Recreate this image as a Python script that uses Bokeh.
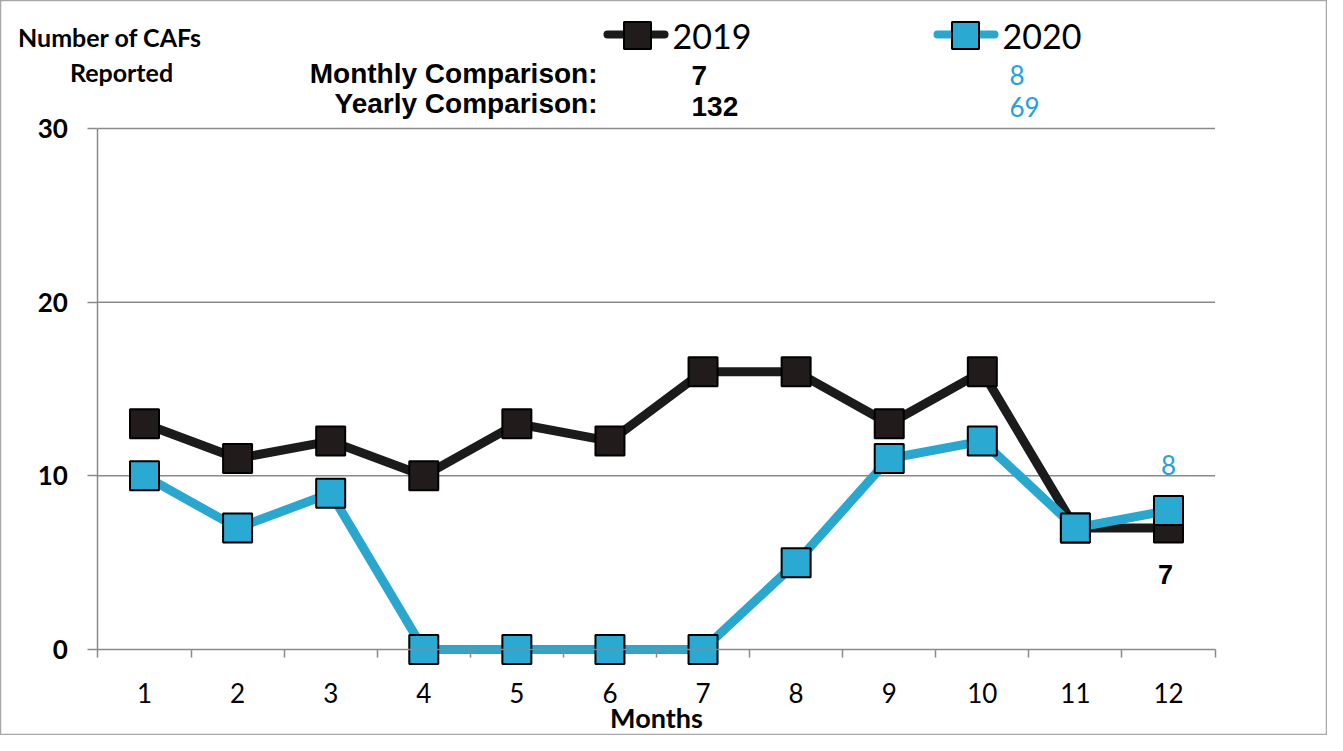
from bokeh.plotting import figure
from bokeh.models import Range1d, FixedTicker
from bokeh.core.properties import value
from bokeh.embed import file_html
from bokeh.resources import INLINE

# ---------------- data ----------------
months = list(range(1, 13))
cafs_2019 = [13, 11, 12, 10, 13, 12, 16, 16, 13, 16, 7, 7]
cafs_2020 = [10, 7, 9, 0, 0, 0, 0, 5, 11, 12, 7, 8]
series_names = ["2019", "2020"]
monthly_comparison = [7, 8]
yearly_comparison = [132, 69]
y_ticks = [0, 10, 20, 30]
grid_values = [10, 20, 30]

# ---------------- style ----------------
BLACK_LINE = "#1b1b1b"
BLACK_FILL = "#221b1b"
BLUE_LINE = "#2aa7cf"
BLUE_FILL = "#2aa9d2"
BLUE_TEXT = "#25a2d6"
GRID = "#8a8a8a"
CAL = "Lato"
ARIAL = "Liberation Sans"

W, H = 1327, 735
PX_X = 93.09     # pixels per month
PX_Y = 17.367    # pixels per CAF


def cx(xr):
    return 1 + (xr - 152) / PX_X


def cy(yr):
    return (657 - yr) / PX_Y


p = figure(width=W, height=H,
           x_range=Range1d(cx(8), cx(8 + W)),
           y_range=Range1d(cy(8 + H), cy(8)),
           output_backend="svg", toolbar_location=None,
           min_border=0, background_fill_color="white",
           border_fill_color="white")
p.outline_line_color = "#a8a8a8"
p.outline_line_width = 1.5
p.xgrid.visible = False
p.ygrid.visible = False

# y axis
ya = p.yaxis[0]
ya.fixed_location = 0.5
ya.bounds = (0, 30)
ya.ticker = FixedTicker(ticks=y_ticks, minor_ticks=[])
ya.major_tick_out = 10
ya.major_tick_in = 0
ya.minor_tick_out = 0
ya.axis_line_color = GRID
ya.axis_line_width = 1.5
ya.major_tick_line_color = GRID
ya.major_tick_line_width = 1.5
ya.major_label_text_font = CAL
ya.major_label_text_font_style = "bold"
ya.major_label_text_font_size = "26px"
ya.major_label_text_color = "black"
ya.major_label_standoff = 20

# x axis
xa = p.xaxis[0]
xa.fixed_location = 0
xa.bounds = (0.5, 12.5)
xa.ticker = FixedTicker(ticks=months, minor_ticks=[m - 0.5 for m in months] + [12.5])
xa.major_tick_out = 0
xa.major_tick_in = 0
xa.minor_tick_out = 8
xa.minor_tick_in = 0
xa.minor_tick_line_color = GRID
xa.minor_tick_line_width = 1.5
xa.axis_line_color = GRID
xa.axis_line_width = 1.5
xa.major_label_text_font = CAL
xa.major_label_text_font_size = "26px"
xa.major_label_text_color = "black"
xa.major_label_standoff = 25
xa.axis_label = "Months"
xa.axis_label_text_font = CAL
xa.axis_label_text_font_style = "bold"
xa.axis_label_text_font_size = "27px"
xa.axis_label_text_color = "black"
xa.axis_label_standoff = -5

# grid lines
p.segment(x0=[0.5] * len(grid_values), x1=[12.5] * len(grid_values),
          y0=grid_values, y1=grid_values, line_color=GRID, line_width=1.5)

# series
p.line(months, cafs_2019, line_color=BLACK_LINE, line_width=9, line_join="round")
p.scatter(months, cafs_2019, marker="square", size=29, fill_color=BLACK_FILL,
          line_color="black", line_width=2)
p.line(months, cafs_2020, line_color=BLUE_LINE, line_width=9, line_join="round")
p.scatter(months, cafs_2020, marker="square", size=29, fill_color=BLUE_FILL,
          line_color="black", line_width=2)

# last-point labels
p.text(x=[months[-1]], y=[cafs_2020[-1]], text=[str(cafs_2020[-1])],
       text_font=value(CAL), text_font_size="26px", text_color=BLUE_TEXT,
       text_align="center", text_baseline="middle", y_offset=-46)
p.text(x=[months[-1]], y=[cafs_2019[-1]], text=[str(cafs_2019[-1])],
       text_font=value(ARIAL), text_font_style="bold", text_font_size="27px",
       text_color="black", text_align="center", text_baseline="middle",
       x_offset=-3, y_offset=47)

# legend (manual)
p.segment(x0=[cx(615), cx(945)], x1=[cx(672), cx(1002)], y0=[cy(42)] * 2, y1=[cy(42)] * 2,
          line_color=[BLACK_LINE, BLUE_LINE], line_width=8, line_cap="round")
p.scatter([cx(645), cx(973)], [cy(43)] * 2, marker="square", size=27,
          fill_color=[BLACK_FILL, BLUE_FILL], line_color="black", line_width=2)
p.text(x=[cx(680), cx(1010)], y=[cy(44)] * 2, text=series_names,
       text_font=value(CAL), text_font_size="34px", text_color="black",
       text_align="left", text_baseline="middle")

# header texts
p.text(x=[cx(117.5), cx(129)], y=[cy(44), cy(79)], text=["Number of CAFs", "Reported"],
       text_font=value(CAL), text_font_style="bold", text_font_size="25px",
       text_color="black", text_align="center", text_baseline="middle")
p.text(x=[cx(605), cx(605)], y=[cy(81), cy(111)],
       text=["Monthly Comparison:", "Yearly Comparison:"],
       text_font=value(ARIAL), text_font_style="bold", text_font_size="28px",
       text_color="black", text_align="right", text_baseline="middle")
p.text(x=[cx(699), cx(699)], y=[cy(82.5), cy(114)],
       text=[str(monthly_comparison[0]), str(yearly_comparison[0])],
       text_font=value(ARIAL), text_font_style="bold", text_font_size="28px",
       text_color="black", text_align="left", text_baseline="middle")
p.text(x=[cx(1017), cx(1017)], y=[cy(82.5), cy(114)],
       text=[str(monthly_comparison[1]), str(yearly_comparison[1])],
       text_font=value(CAL), text_font_size="26px",
       text_color=BLUE_TEXT, text_align="left", text_baseline="middle")

open("out.html", "w").write(file_html(p, INLINE))
